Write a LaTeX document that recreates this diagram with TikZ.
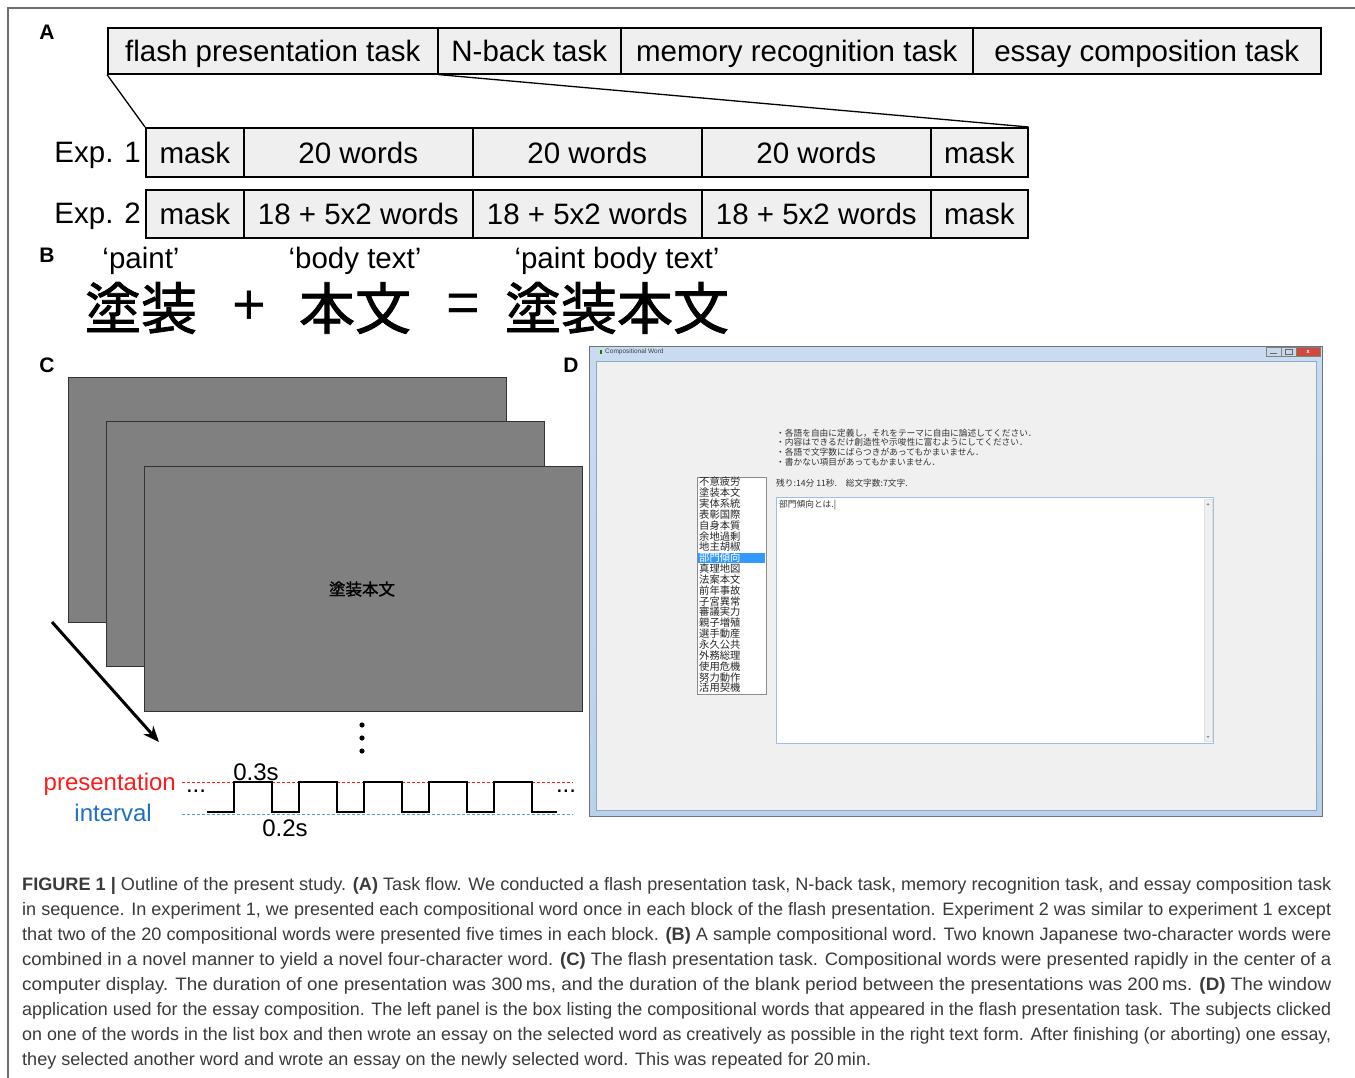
\documentclass[tikz,border=0pt]{standalone}
\usepackage{fontspec}
\usepackage{graphicx}
\setmainfont{Liberation Sans}
\newfontfamily\cjk{Noto Sans CJK JP}
\newfontfamily\cjkb[FakeBold=1.5]{Noto Sans CJK JP}
\usetikzlibrary{arrows.meta}
\definecolor{boxfill}{HTML}{EFEFEF}
\definecolor{scrgray}{HTML}{808080}
\definecolor{presred}{HTML}{FF1A1A}
\definecolor{inttext}{HTML}{1F6FC4}
\definecolor{intline}{HTML}{5B9BD5}
\definecolor{winbg}{HTML}{F0F0F0}
\definecolor{winedge}{HTML}{8FA8C6}
\definecolor{selblue}{HTML}{3399FF}
\definecolor{captext}{HTML}{3A3A3A}
\definecolor{framegray}{HTML}{6E6E6E}
\definecolor{wintop}{RGB}{200,219,240}
\definecolor{winbot}{RGB}{185,209,234}
\definecolor{btnblue}{RGB}{200,216,235}
\definecolor{btnred}{RGB}{205,75,60}
\definecolor{taedge}{RGB}{160,192,224}
\tikzset{
  task/.style={draw=black, line width=1.6pt, fill=boxfill, anchor=north west,
    minimum height=46pt, inner sep=0pt, text height=22pt, text depth=0pt,
    font=\fontsize{29.5}{30}\selectfont},
  ebox/.style={task, minimum height=49pt},
  panel/.style={font=\fontsize{21}{21}\selectfont\bfseries, inner sep=0pt},
  gloss/.style={font=\fontsize{29.5}{30}\selectfont, inner sep=0pt},
  kanji/.style={font=\fontsize{56}{56}\cjkb, inner sep=0pt},
  bigop/.style={font=\fontsize{58}{58}\selectfont, inner sep=0pt},
  screen/.style={draw=black!80, line width=1.2pt, fill=scrgray, anchor=north west,
    minimum width=438pt, minimum height=245pt, inner sep=0pt},
  wavelbl/.style={font=\fontsize{24}{24}\selectfont, inner sep=0pt},
  jsmall/.style={font=\fontsize{8.7}{9}\cjk, inner sep=0pt, anchor=west, text=black!80},
  listitem/.style={font=\fontsize{10.3}{10.5}\cjk, inner sep=0pt, anchor=west, text=black!85},
  capline/.style={inner sep=0pt, anchor=base west, text=captext,
    font=\fontsize{18}{20}\selectfont},
}
\begin{document}
\begin{tikzpicture}[x=1pt,y=-1pt]
\useasboundingbox (0,0) rectangle (1355,1078);
% outer frame
\draw[framegray, line width=1.3pt] (8,1078) -- (8,8) -- (1355,8);

% ---------- Panel A ----------
\node[panel] (lA) at (47,32) {A};
\node[task, minimum width=330pt] (t1) at (107,27) {flash presentation task};
\node[task, minimum width=183pt] (t2) at (437,27) {N-back task};
\node[task, minimum width=352pt] (t3) at (620,27) {memory recognition task};
\node[task, minimum width=348pt] (t4) at (972,27) {essay composition task};

\node[ebox, minimum width=98pt]  (a1) at (145,127) {mask};
\node[ebox, minimum width=229pt] (a2) at (243,127) {20 words};
\node[ebox, minimum width=229pt] (a3) at (472,127) {20 words};
\node[ebox, minimum width=229pt] (a4) at (701,127) {20 words};
\node[ebox, minimum width=97pt]  (a5) at (930,127) {mask};

\node[ebox, minimum width=98pt, minimum height=48pt]  (b1) at (145,189) {mask};
\node[ebox, minimum width=229pt, minimum height=48pt] (b2) at (243,189) {18 + 5x2 words};
\node[ebox, minimum width=229pt, minimum height=48pt] (b3) at (472,189) {18 + 5x2 words};
\node[ebox, minimum width=229pt, minimum height=48pt] (b4) at (701,189) {18 + 5x2 words};
\node[ebox, minimum width=97pt, minimum height=48pt]  (b5) at (930,189) {mask};

\node[gloss, anchor=east] (e1) at (141,155) {Exp. 1};
\node[gloss, anchor=east] (e2) at (141,216) {Exp. 2};

\draw[line width=1.3pt] (t1.south west) -- (a1.north west);
\draw[line width=1.3pt] (t1.south east) -- (a5.north east);

% ---------- Panel B ----------
\node[panel] (lB) at (47,255) {B};
\node[gloss] (g1) at (141,261) {‘paint’};
\node[gloss] (g2) at (355,261) {‘body text’};
\node[gloss] (g3) at (617,261) {‘paint body text’};
\node[kanji] (k1) at (141,308) {塗装};
\node[bigop] (plus) at (249,308) {+};
\node[kanji] (k2) at (355,308) {本文};
\node[bigop] (eq) at (463,308) {=};
\node[kanji] (k3) at (617,308) {塗装本文};

% ---------- Panel C ----------
\node[panel] (lC) at (47,365) {C};
\node[screen] (s1) at (68,377) {};
\node[screen] (s2) at (106,421) {};
\node[screen] (s3) at (144,466) {};
\node[font=\fontsize{16.5}{17}\cjkb, inner sep=0pt] (sw) at (362,589) {塗装本文};
\coordinate (arrS) at (52,622);
\coordinate (arrE) at (159,742);
\draw[line width=3pt, -{Stealth[length=16pt,width=13pt]}] (arrS) -- (arrE);
\foreach \yy in {725,738,751} { \fill (362,\yy) circle (2.6pt); }

% waveform
\draw[presred, line width=0.9pt, dash pattern=on 3pt off 2pt] (182,782) -- (573,782);
\draw[intline, line width=0.9pt, dash pattern=on 3pt off 2pt] (182,814) -- (573,814);
\node[wavelbl, text=presred, anchor=east] (pres) at (176,784) {presentation};
\node[wavelbl, text=inttext, anchor=east] (intv) at (152,813) {interval};
\node[wavelbl] (d1) at (196,791) {...};
\node[wavelbl] (d2) at (566,791) {...};
\node[wavelbl] (l03) at (256,772) {0.3s};
\node[wavelbl] (l02) at (285,828) {0.2s};
\draw[line width=2.2pt, line join=miter] (207,812) -- (234,812) -- (234,782) -- (272,782) -- (272,812)
  -- (299,812) -- (299,782) -- (337,782) -- (337,812) -- (364,812) -- (364,782) -- (402,782)
  -- (402,812) -- (429,812) -- (429,782) -- (467,782) -- (467,812) -- (494,812) -- (494,782)
  -- (532,782) -- (532,812) -- (557,812);

% ---------- Panel D ----------
\node[panel] (lD) at (571,365) {D};
\path[draw=black!55, line width=0.8pt, top color=wintop, bottom color=winbot] (589,346) rectangle (1322,816);
\path[fill=winbg, draw=winedge, line width=0.6pt] (596,361) rectangle (1316,810);
\fill[white!60!winedge] (598,348) rectangle (604,356);
\fill[green!50!black] (600,350) rectangle (602,354);
\node[font=\fontsize{6.5}{7}\selectfont, inner sep=0pt, anchor=west, text=black!75] (title) at (605,352) {Compositional Word};
% window buttons
\path[draw=black!50, fill=btnblue, line width=0.5pt] (1266,347) rectangle (1281,356);
\path[draw=black!50, fill=btnblue, line width=0.5pt] (1281,347) rectangle (1296,356);
\path[draw=black!50, fill=btnred, line width=0.5pt] (1296,347) rectangle (1320,356);
\draw[black!60, line width=0.8pt] (1270,353) -- (1277,353);
\draw[black!60, line width=0.6pt] (1285,349.5) rectangle (1292,354);
\node[font=\fontsize{6}{6}\selectfont\bfseries, text=white, inner sep=0pt] (xb) at (1308,351.5) {x};

% instructions
\node[jsmall] (i1) at (776,433) {・各語を自由に定義し，それをテーマに自由に論述してください．};
\node[jsmall] (i2) at (776,442.5) {・内容はできるだけ創造性や示唆性に富むようにしてください．};
\node[jsmall] (i3) at (776,452) {・各語で文字数にばらつきがあってもかまいません．};
\node[jsmall] (i4) at (776,462) {・書かない項目があってもかまいません．};
\node[jsmall] (rem) at (776,483) {残り:14分 11秒.　総文字数:7文字.};

% list box
\path[fill=white, draw=black!45, line width=0.6pt] (697,477) rectangle (766,694);
\fill[selblue] (698,553) rectangle (765,563);
\foreach \w [count=\i] in {不意疲労,塗装本文,実体系統,表彰国際,自身本質,余地過剰,地主胡椒,部門傾向,真理地図,法案本文,前年事故,子宮異常,審議実力,親子増殖,選手動産,永久公共,外務総理,使用危機,努力動作,活用契機}{
  \ifnum\i=8
    \node[listitem, text=white] (li\i) at (699,{482+10.84*(\i-1)}) {\w};
  \else
    \node[listitem] (li\i) at (699,{482+10.84*(\i-1)}) {\w};
  \fi
}

% text area
\path[fill=white, draw=taedge, line width=0.7pt] (776,497) rectangle (1213,743);
\path[fill=winbg, draw=black!12, line width=0.4pt] (1204,499) rectangle (1212,741);
\fill[black!45] (1206.5,505) -- (1209.5,505) -- (1208,503) -- cycle;
\fill[black!45] (1206.5,736) -- (1209.5,736) -- (1208,738) -- cycle;
\node[jsmall] (txt) at (779,505) {部門傾向とは.|};

% ---------- Caption ----------
\node[capline] (c1) at (22,890) {\resizebox{1309pt}{\height}{{\bfseries FIGURE 1 |} Outline of the present study. {\bfseries (A)} Task flow. We conducted a flash presentation task, N-back task, memory recognition task, and essay composition task}};
\node[capline] (c2) at (22,915) {\resizebox{1309pt}{\height}{in sequence. In experiment 1, we presented each compositional word once in each block of the flash presentation. Experiment 2 was similar to experiment 1 except}};
\node[capline] (c3) at (22,940) {\resizebox{1309pt}{\height}{that two of the 20 compositional words were presented five times in each block. {\bfseries (B)} A sample compositional word. Two known Japanese two-character words were}};
\node[capline] (c4) at (22,965) {\resizebox{1309pt}{\height}{combined in a novel manner to yield a novel four-character word. {\bfseries (C)} The flash presentation task. Compositional words were presented rapidly in the center of a}};
\node[capline] (c5) at (22,990) {\resizebox{1309pt}{\height}{computer display. The duration of one presentation was 300\,ms, and the duration of the blank period between the presentations was 200\,ms. {\bfseries (D)} The window}};
\node[capline] (c6) at (22,1015) {\resizebox{1309pt}{\height}{application used for the essay composition. The left panel is the box listing the compositional words that appeared in the flash presentation task. The subjects clicked}};
\node[capline] (c7) at (22,1040) {\resizebox{1309pt}{\height}{on one of the words in the list box and then wrote an essay on the selected word as creatively as possible in the right text form. After finishing (or aborting) one essay,}};
\node[capline] (c8) at (22,1065) {\resizebox{849pt}{\height}{they selected another word and wrote an essay on the newly selected word. This was repeated for 20\,min.}};
\end{tikzpicture}
\end{document}
